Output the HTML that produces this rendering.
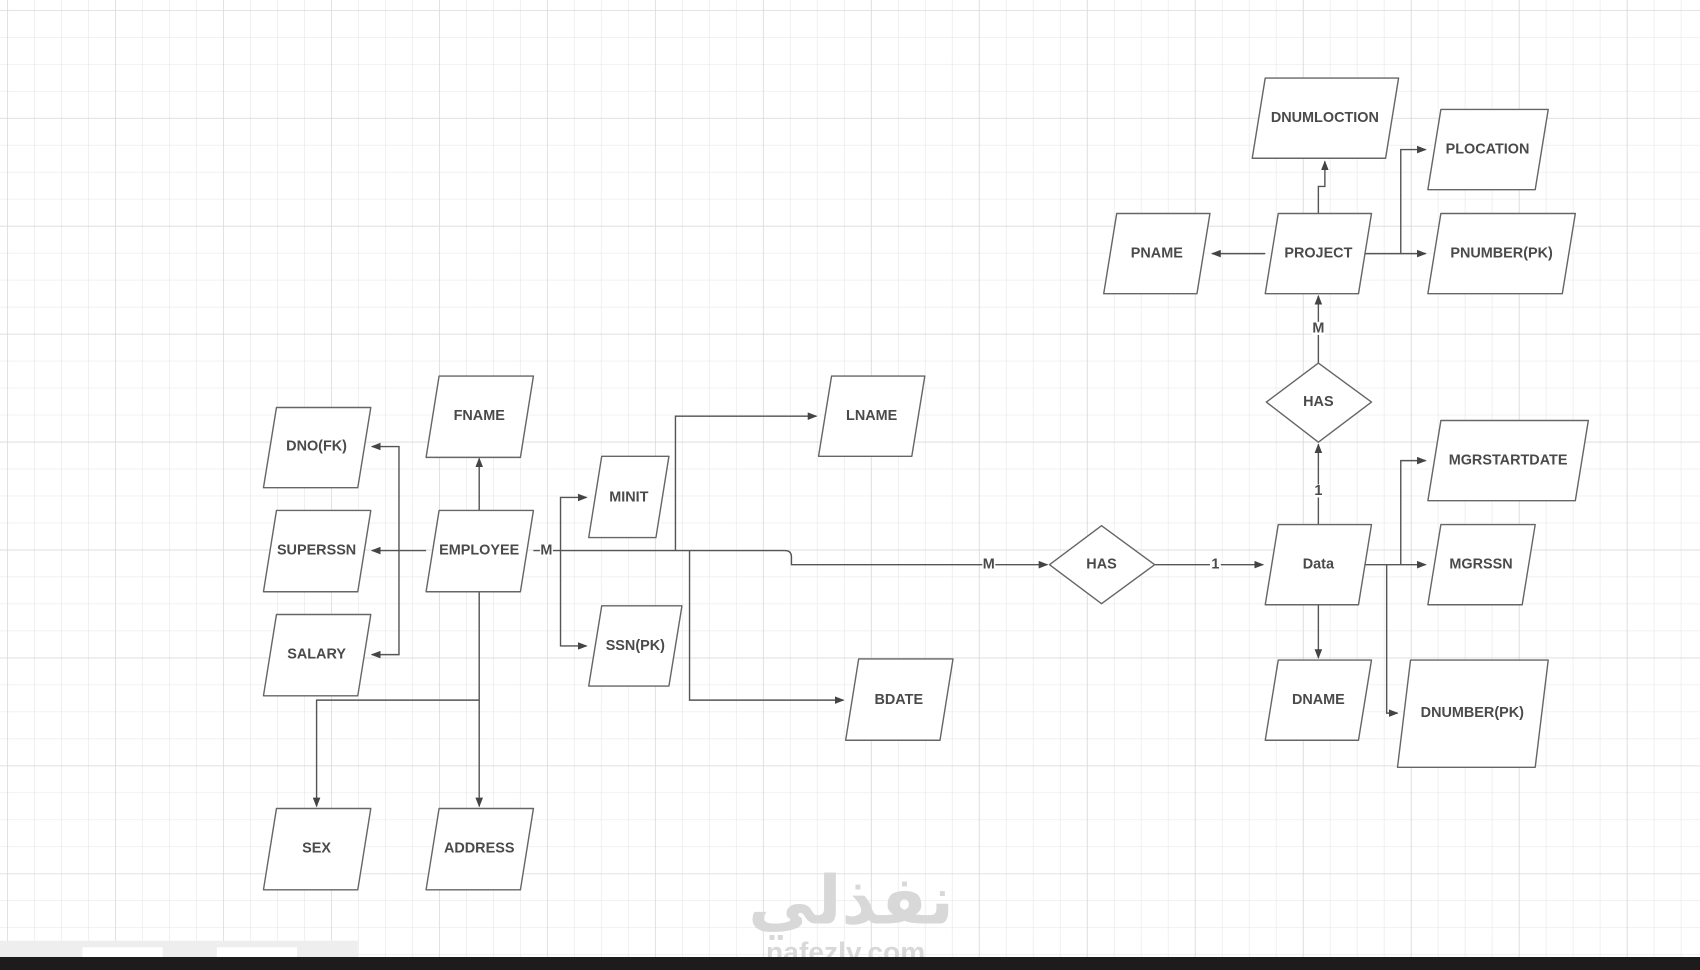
<!DOCTYPE html>
<html><head><meta charset="utf-8"><style>
html,body{margin:0;padding:0;background:#fff;overflow:hidden}
svg{display:block}
text{font-family:"Liberation Sans",sans-serif;font-weight:bold;fill:#4a4a4a;font-size:13.3px;text-anchor:middle;dominant-baseline:central}
</style></head><body>
<svg width="1700" height="970" viewBox="0 0 1568 895" preserveAspectRatio="none" xmlns="http://www.w3.org/2000/svg">
<defs>
<pattern id="g" x="6.5" y="9.2" width="24.9" height="24.9" patternUnits="userSpaceOnUse">
<path d="M0 0H24.9M0 0V24.9" stroke="#e4e4e4" stroke-width="1" fill="none"/>
</pattern>
<pattern id="G" x="6.5" y="9.2" width="99.6" height="99.6" patternUnits="userSpaceOnUse">
<path d="M0 0H99.6M0 0V99.6" stroke="#d4d4d4" stroke-width="1.2" fill="none"/>
</pattern>
<marker id="a" markerWidth="9" markerHeight="7" refX="8" refY="3.5" orient="auto" markerUnits="userSpaceOnUse">
<path d="M0 0L9 3.5L0 7Z" fill="#444"/>
</marker>
</defs>
<rect width="1568" height="895" fill="url(#g)"/>
<rect width="1568" height="895" fill="url(#G)"/>

<g fill="none" stroke="#555" stroke-width="1.3" marker-end="url(#a)">
<path d="M442 471V423"/>
<path d="M393 508H343"/>
<path d="M368 508V412H343"/>
<path d="M368 508V604H343"/>
<path d="M442 546V744"/>
<path d="M442 646H292V744"/>
<path d="M492 508H724Q730 508 730 514V521H966"/>
<path d="M517 508V459H541"/>
<path d="M517 508V596H541"/>
<path d="M623 508V384H753"/>
<path d="M636 508V646H778"/>
<path d="M1065 521H1165"/>
<path d="M1216 484V410"/>
<path d="M1216 335V273"/>
<path d="M1167 234H1118"/>
<path d="M1216 197V172H1222V149"/>
<path d="M1258 234H1315"/>
<path d="M1292 234V138H1315"/>
<path d="M1258 521H1315"/>
<path d="M1292 521V425H1315"/>
<path d="M1279 521V658H1289"/>
<path d="M1216 558V607"/>
</g>

<g fill="#fff" stroke="#666" stroke-width="1.3" stroke-linejoin="round">
<polygon points="405,471 492,471 480,546 393,546"/>
<polygon points="405,347 492,347 480,422 393,422"/>
<polygon points="255,376 342,376 330,450 243,450"/>
<polygon points="255,471 342,471 330,546 243,546"/>
<polygon points="255,567 342,567 330,642 243,642"/>
<polygon points="255,746 342,746 330,821 243,821"/>
<polygon points="405,746 492,746 480,821 393,821"/>
<polygon points="555,421 617,421 605,496 543,496"/>
<polygon points="555,559 629,559 617,633 543,633"/>
<polygon points="767,347 853,347 841,421 755,421"/>
<polygon points="792,608 879,608 867,683 780,683"/>
<polygon points="1179,484 1265,484 1253,558 1167,558"/>
<polygon points="1179,197 1265,197 1253,271 1167,271"/>
<polygon points="1030,197 1116,197 1104,271 1018,271"/>
<polygon points="1167,72 1290,72 1278,146 1155,146"/>
<polygon points="1329,101 1428,101 1416,175 1317,175"/>
<polygon points="1329,197 1453,197 1441,271 1317,271"/>
<polygon points="1329,388 1465,388 1453,462 1317,462"/>
<polygon points="1329,484 1416,484 1404,558 1317,558"/>
<polygon points="1179,609 1265,609 1253,683 1167,683"/>
<polygon points="1301,609 1428,609 1416,708 1289,708"/>
<polygon points="1016,485 1065,521 1016,557 968,521"/>
<polygon points="1216,335 1265,371 1216,408 1168,371"/>
</g>

<text x="442" y="508">EMPLOYEE</text>
<text x="442" y="384">FNAME</text>
<text x="292" y="412">DNO(FK)</text>
<text x="292" y="508">SUPERSSN</text>
<text x="292" y="604">SALARY</text>
<text x="292" y="783">SEX</text>
<text x="442" y="783">ADDRESS</text>
<text x="580" y="459">MINIT</text>
<text x="586" y="596">SSN(PK)</text>
<text x="804" y="384">LNAME</text>
<text x="829" y="646">BDATE</text>
<text x="1016" y="521">HAS</text>
<text x="1216" y="521">Data</text>
<text x="1216" y="371">HAS</text>
<text x="1216" y="234">PROJECT</text>
<text x="1067" y="234">PNAME</text>
<text x="1222" y="109">DNUMLOCTION</text>
<text x="1372" y="138">PLOCATION</text>
<text x="1385" y="234">PNUMBER(PK)</text>
<text x="1391" y="425">MGRSTARTDATE</text>
<text x="1366" y="521">MGRSSN</text>
<text x="1216" y="646">DNAME</text>
<text x="1358" y="658">DNUMBER(PK)</text>

<g style="font-size:10px">
<rect x="498" y="502" width="12" height="12" fill="#fff"/>
<text x="504" y="508">M</text>
<rect x="906" y="515" width="12" height="12" fill="#fff"/>
<text x="912" y="521">M</text>
<rect x="1116" y="515" width="10" height="12" fill="#fff"/>
<text x="1121" y="521">1</text>
<rect x="1211" y="447" width="10" height="12" fill="#fff"/>
<text x="1216" y="453">1</text>
<rect x="1210" y="297" width="12" height="12" fill="#fff"/>
<text x="1216" y="303">M</text>
</g>

<text x="785" y="826" style="font-family:'Noto Sans CJK SC','DejaVu Sans',sans-serif;font-size:62px;fill:#d8d8d8">نفذلي</text>
<text x="780" y="878" style="font-size:26px;fill:#d8d8d8">nafezly.com</text>

<rect x="0" y="868" width="330" height="15" fill="#eeeeee"/>
<rect x="76" y="874" width="74" height="10" fill="#fff"/>
<rect x="200" y="874" width="74" height="10" fill="#fff"/>
<rect x="0" y="883" width="1568" height="12" fill="#1c1c1c"/>
</svg>
</body></html>
